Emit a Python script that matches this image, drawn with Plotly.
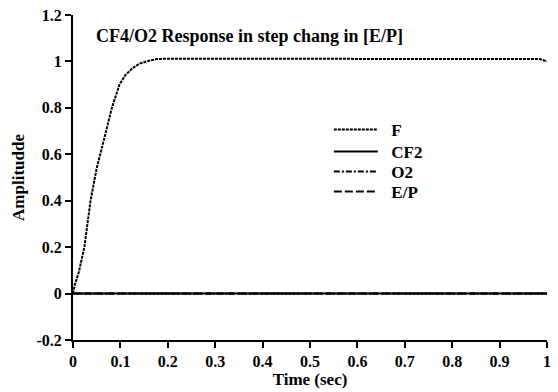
import plotly.graph_objects as go

# Data
time_f = [0, 0.004, 0.012, 0.024, 0.037, 0.05, 0.06, 0.07, 0.082, 0.098, 0.11, 0.125,
          0.14, 0.155, 0.176, 0.2, 0.4, 0.6, 0.8, 0.97, 0.985, 1.0]
amp_f = [0, 0.04, 0.09, 0.2, 0.4, 0.54, 0.62, 0.7, 0.8, 0.9, 0.94, 0.97,
         0.99, 1.0, 1.01, 1.012, 1.012, 1.012, 1.012, 1.012, 1.01, 1.0]
time_other = [0, 1.0]
amp_cf2 = [0, 0]
amp_o2 = [0, 0]
amp_ep = [0, 0]

x_ticks = [0, 0.1, 0.2, 0.3, 0.4, 0.5, 0.6, 0.7, 0.8, 0.9, 1.0]
x_ticklabels = ["0", "0.1", "0.2", "0.3", "0.4", "0.5", "0.6", "0.7", "0.8", "0.9", "1"]
y_ticks = [-0.2, 0, 0.2, 0.4, 0.6, 0.8, 1.0, 1.2]
y_ticklabels = ["-0.2", "0", "0.2", "0.4", "0.6", "0.8", "1", "1.2"]

FONT = "Liberation Serif"
FS = 17

PL, PT, PW, PH = 73, 15, 478, 325

fig = go.Figure()
fig.add_trace(go.Scatter(x=time_other, y=amp_ep, mode="lines", name="&nbsp;&nbsp;<b>E/P</b>",
                         legend="legend4",
                         line=dict(color="black", width=2, dash="8px,3px")))
fig.add_trace(go.Scatter(x=time_other, y=amp_o2, mode="lines", name="&nbsp;&nbsp;<b>O2</b>",
                         legend="legend3",
                         line=dict(color="black", width=2, dash="6px,2px,2px,2px")))
fig.add_trace(go.Scatter(x=time_other, y=amp_cf2, mode="lines", name="&nbsp;&nbsp;<b>CF2</b>",
                         legend="legend2",
                         line=dict(color="black", width=2)))
fig.add_trace(go.Scatter(x=time_f, y=amp_f, mode="lines", name="&nbsp;&nbsp;<b>F</b>",
                         legend="legend",
                         line=dict(color="black", width=2, dash="3px,1px")))


def leg(ypix):
    return dict(x=(331 - PL) / PW, y=(PT + PH - ypix) / PH, xanchor="left", yanchor="middle",
                bgcolor="rgba(0,0,0,0)", itemwidth=44, font=dict(family=FONT, size=FS))


fig.update_layout(
    width=558, height=392,
    margin=dict(l=PL, r=7, t=PT, b=52),
    paper_bgcolor="white", plot_bgcolor="white",
    font=dict(family=FONT, size=FS, color="black"),
    showlegend=True,
    legend=leg(130), legend2=leg(152), legend3=leg(172), legend4=leg(192),
    xaxis=dict(range=[0, 1], tickvals=x_ticks, ticktext=["<b>%s</b>" % t for t in x_ticklabels],
               showgrid=False, zeroline=False, showline=True, linecolor="black", linewidth=2,
               ticks="outside", ticklen=6, tickwidth=2, tickcolor="black",
               tickfont=dict(size=16),
               title=dict(text="<b>Time (sec)</b>", standoff=2, font=dict(size=FS))),
    yaxis=dict(range=[-0.2, 1.2], tickvals=y_ticks, ticktext=["<b>%s</b>" % t for t in y_ticklabels],
               showgrid=False, zeroline=False, showline=True, linecolor="black", linewidth=2,
               ticks="outside", ticklen=6, tickwidth=2, tickcolor="black",
               tickfont=dict(size=16),
               title=dict(text="<b>Amplitudde</b>", standoff=8, font=dict(size=FS))),
    annotations=[dict(text="<b>CF4/O2 Response in step chang in [E/P]</b>", xref="paper", yref="paper",
                      x=(94 - PL) / PW, y=(PT + PH - 36) / PH, xanchor="left", yanchor="middle",
                      showarrow=False, font=dict(family=FONT, size=18))],
)

fig.write_html("out.html")
